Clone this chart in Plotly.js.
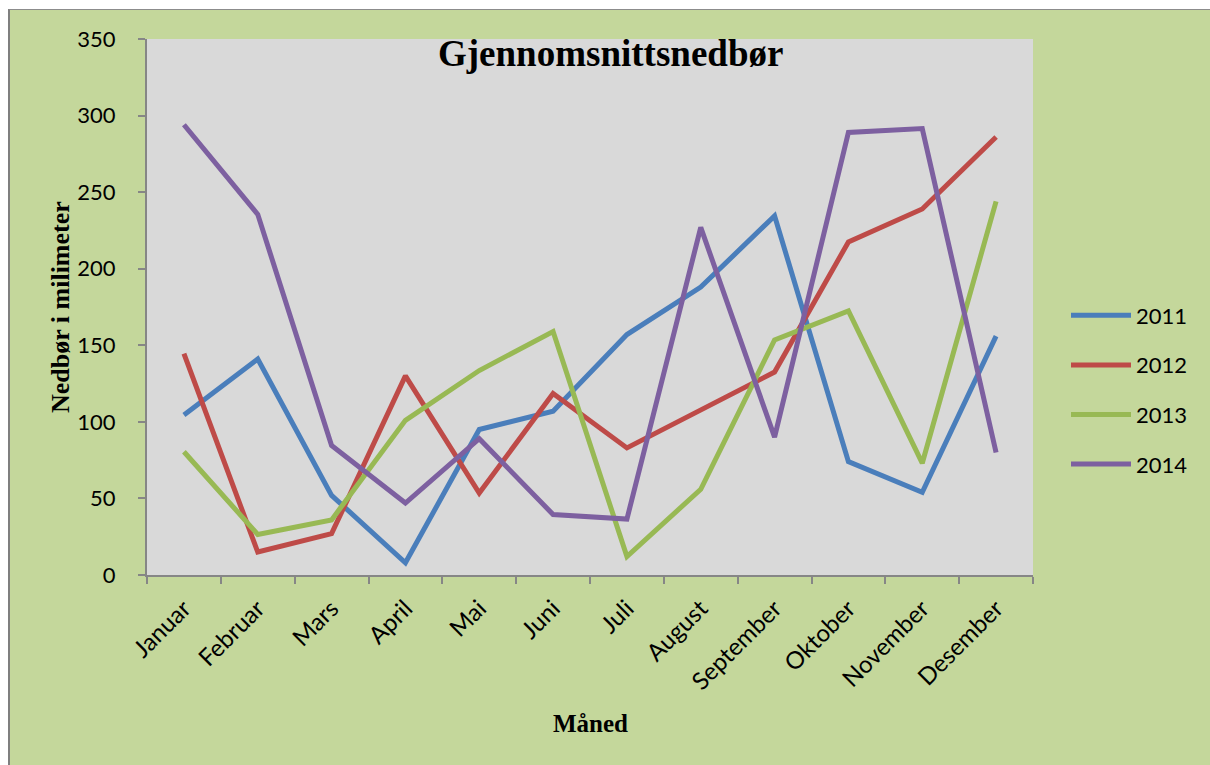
<!DOCTYPE html>
<html>
<head>
<meta charset="utf-8">
<script src="https://cdn.plot.ly/plotly-3.0.1.min.js"></script>
<style>
  html, body { margin: 0; padding: 0; background: #ffffff; width: 1210px; height: 765px; overflow: hidden; }
  #frame { position: absolute; left: 8px; top: 9px; width: 1202px; height: 756px;
           border-left: 2px solid #7f7f7f; border-top: 1px solid #8c8c8c; background: #c4d79b; }
  #chart { position: absolute; left: 0; top: 0; width: 1200px; height: 755px; }
</style>
</head>
<body>
<div id="frame"><div id="chart"></div></div>
<script>
const months = ["Januar","Februar","Mars","April","Mai","Juni","Juli","August","September","Oktober","November","Desember"];
const y2011 = [104.5, 141, 52, 8, 95, 107, 157, 188, 234.5, 74, 54, 156];
const y2012 = [144.5, 15, 27, 130, 53.5, 118.5, 83, 107.5, 132.5, 217.5, 239, 286];
const y2013 = [80.5, 26.5, 36, 101, 133.5, 159, 12, 56, 153.5, 172.5, 73, 244];
const y2014 = [294, 235.5, 84.5, 47, 89, 39.5, 36.5, 227, 90, 289, 291.5, 80];
const seriesNames = ["2011","2012","2013","2014"];
const seriesColors = ["#4a7ebb","#be4b48","#98b954","#7d60a0"];
const seriesData = [y2011, y2012, y2013, y2014];

const traces = seriesData.map((ys, i) => ({
  type: "scatter", mode: "lines", x: months, y: ys, name: seriesNames[i],
  legendgroup: "g" + i,
  line: { color: seriesColors[i], width: 5 }
}));

const W = 1200, H = 755;
const L = 137, T = 29, R = 177, B = 190;
const pw = W - L - R, ph = H - T - B;
// page px -> paper coords (page offset: 10 left, 10 top)
const px = v => (v - 10 - L) / pw;
const py = v => (H - B - (v - 10)) / ph;

const serif = "Liberation Serif, Times New Roman, serif";
const sans = "Lato, Carlito, Calibri, sans-serif";

const layout = {
  width: W, height: H,
  margin: { l: L, r: R, t: T, b: B, pad: 0 },
  paper_bgcolor: "#c4d79b",
  plot_bgcolor: "#d9d9d9",
  showlegend: true,
  legend: {
    x: px(1066), xanchor: "left", y: py(390), yanchor: "middle",
    bgcolor: "rgba(0,0,0,0)", font: { family: sans, size: 22, color: "#000" },
    tracegroupgap: 18, itemwidth: 60
  },
  xaxis: {
    type: "category", showgrid: false, zeroline: false,
    showline: true, linecolor: "#868686", linewidth: 2,
    ticks: "outside", tickson: "boundaries", ticklen: 7, tickcolor: "#868686", tickwidth: 2,
    tickangle: -45, ticklabelstandoff: 8,
    tickfont: { family: sans, size: 24, color: "#000" },
    range: [-0.5, 11.5], fixedrange: true
  },
  yaxis: {
    range: [0, 350], dtick: 50, showgrid: false, zeroline: false,
    showline: true, linecolor: "#868686", linewidth: 2,
    ticks: "outside", ticklen: 7, tickcolor: "#868686", tickwidth: 2,
    ticklabelstandoff: 18,
    tickfont: { family: sans, size: 22, color: "#000" }, fixedrange: true
  },
  annotations: [
    { text: "<b>Gjennomsnittsnedbør</b>", xref: "paper", yref: "paper",
      x: px(610), y: py(53), xanchor: "center", yanchor: "middle", showarrow: false,
      font: { family: serif, size: 37, color: "#000" } },
    { text: "<b>Nedbør i milimeter</b>", xref: "paper", yref: "paper",
      x: px(60), y: py(307), xanchor: "center", yanchor: "middle", showarrow: false, textangle: -90,
      font: { family: serif, size: 26, color: "#000" } },
    { text: "<b>Måned</b>", xref: "paper", yref: "paper",
      x: px(590), y: py(723), xanchor: "center", yanchor: "middle", showarrow: false,
      font: { family: serif, size: 25, color: "#000" } }
  ]
};

Plotly.newPlot("chart", traces, layout, { displayModeBar: false, staticPlot: true });
</script>
</body>
</html>
